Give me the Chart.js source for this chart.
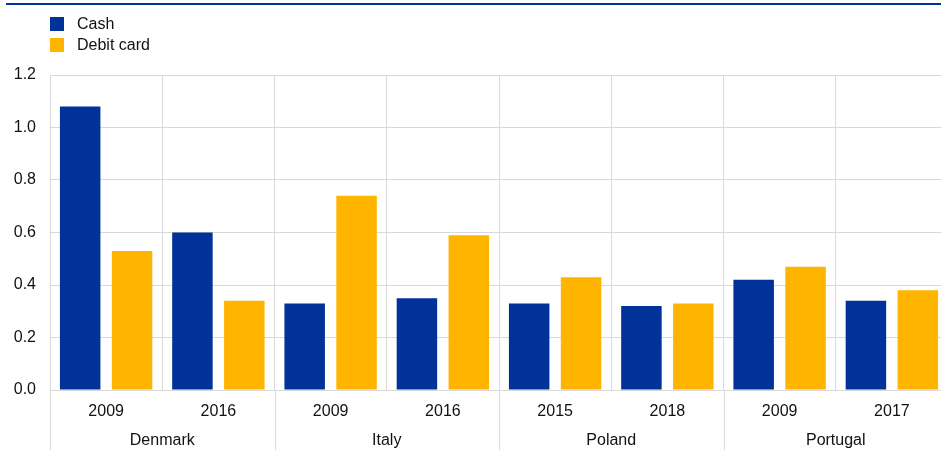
<!DOCTYPE html>
<html>
<head>
<meta charset="utf-8">
<script src="https://cdn.jsdelivr.net/npm/chart.js@4"></script>
<style>
html,body{margin:0;padding:0;overflow:hidden;background:#fff;}
#wrap{position:relative;width:950px;height:458px;}
</style>
</head>
<body>
<div id="wrap"><canvas id="c"></canvas></div>
<script>
const years = ['2009','2016','2009','2016','2015','2018','2009','2017'];
const countries = ['Denmark','Italy','Poland','Portugal'];
const cashValues = [1.08, 0.60, 0.33, 0.35, 0.33, 0.32, 0.42, 0.34];
const debitValues = [0.53, 0.34, 0.74, 0.59, 0.43, 0.33, 0.47, 0.38];
const seriesNames = ['Cash','Debit card'];
const yTicks = [0, 0.2, 0.4, 0.6, 0.8, 1.0, 1.2];

const BLUE = '#003299', YELLOW = '#FFB400', GRID = '#d9d9d9', TEXT = '#111111';
const FONT = 'Liberation Sans, Arial, sans-serif';
Chart.defaults.font.family = FONT;
Chart.defaults.font.size = 16;
Chart.defaults.color = TEXT;

const decor = {
  id: 'decor',
  afterDraw(chart) {
    const ctx = chart.ctx;
    const xs = chart.scales.x, x2 = chart.scales.x2;
    const area = chart.chartArea;
    ctx.save();
    // top rule
    ctx.strokeStyle = BLUE; ctx.lineWidth = 2;
    ctx.beginPath(); ctx.moveTo(6, 4); ctx.lineTo(chart.width, 4); ctx.stroke();
    // group separators extending through the axis labels
    const step = xs.getPixelForValue(1) - xs.getPixelForValue(0);
    ctx.strokeStyle = GRID; ctx.lineWidth = 1;
    for (let i = 0; i < years.length; i += 2) {
      const x = Math.round(xs.getPixelForValue(i) - step / 2) + 0.5;
      ctx.beginPath(); ctx.moveTo(x, area.bottom); ctx.lineTo(x, x2.bottom - 8); ctx.stroke();
    }
    // legend
    const colors = [BLUE, YELLOW];
    ctx.font = '16px ' + FONT;
    ctx.textBaseline = 'middle'; ctx.textAlign = 'left';
    seriesNames.forEach((n, i) => {
      const y = 17 + i * 21;
      ctx.fillStyle = colors[i];
      ctx.fillRect(50, y, 14, 14);
      ctx.fillStyle = TEXT;
      ctx.fillText(n, 77, y + 7.5);
    });
    ctx.restore();
  }
};

new Chart(document.getElementById('c'), {
  type: 'bar',
  data: {
    labels: years,
    datasets: [
      { label: seriesNames[0], data: cashValues, backgroundColor: BLUE, xAxisID: 'x' },
      { label: seriesNames[1], data: debitValues, backgroundColor: YELLOW, xAxisID: 'x' }
    ]
  },
  options: {
    responsive: true,
    maintainAspectRatio: false,
    animation: false,
    devicePixelRatio: 1,
    datasets: { bar: { categoryPercentage: 0.925, barPercentage: 0.78 } },
    layout: { padding: { top: 75, right: 2, left: 0, bottom: 0 } },
    plugins: { legend: { display: false }, tooltip: { enabled: false } },
    scales: {
      y: {
        min: 0, max: 1.2,
        afterBuildTicks(s) { s.ticks = yTicks.map(v => ({ value: v })); },
        afterFit(s) { s.width = 50; },
        ticks: { padding: 14, callback: v => Number(v).toFixed(1) },
        grid: { color: GRID, drawTicks: false },
        border: { display: false }
      },
      x: {
        type: 'category',
        position: 'bottom',
        weight: 0,
        afterFit(s) { s.height = 34; },
        grid: { offset: true, color: GRID, drawTicks: false },
        border: { color: GRID },
        ticks: { padding: 12, maxRotation: 0, autoSkip: false }
      },
      x2: {
        type: 'category',
        position: 'bottom',
        weight: 1,
        labels: countries,
        offset: true,
        afterFit(s) { s.height = 34; },
        grid: { display: false, drawTicks: false },
        border: { display: false },
        ticks: { padding: 7, maxRotation: 0, autoSkip: false }
      }
    }
  },
  plugins: [decor]
});
</script>
</body>
</html>
